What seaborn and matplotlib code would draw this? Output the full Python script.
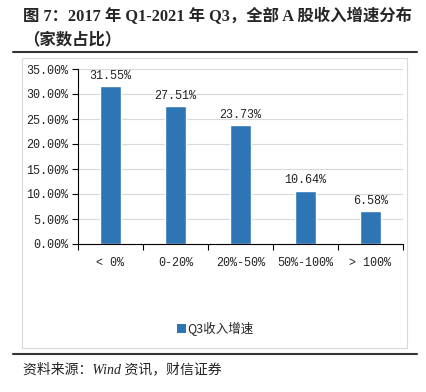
import matplotlib
matplotlib.use("Agg")
import matplotlib.pyplot as plt
import seaborn as sns
import pandas as pd
from matplotlib.patches import Rectangle
from matplotlib.lines import Line2D
from matplotlib.ticker import PercentFormatter, FixedLocator, MultipleLocator

categories = ["< 0%", "0-20%", "20%-50%", "50%-100%", "> 100%"]
values = [31.55, 27.51, 23.73, 10.64, 6.58]
series_name = "Q3收入增速"

sns.set_theme(style="white")
plt.rcParams['font.family'] = ['Noto Sans CJK SC', 'DejaVu Sans']

df = pd.DataFrame({"cat": categories, "val": values, "series": series_name})

W, H = 427, 392
fig = plt.figure(figsize=(W / 100, H / 100), dpi=100)
ax = fig.add_axes([78 / W, 1 - 244 / H, (403 - 78) / W, (244 - 69) / H])

color = "#2E75B6"
sns.barplot(data=df, x="cat", y="val", hue="series", palette=[color],
            width=0.32, ax=ax, legend=False, saturation=1)

ax.set_ylim(0, 35)
ax.set_xlim(-0.5, 4.5)
ax.yaxis.set_major_locator(MultipleLocator(5))
ax.yaxis.set_major_formatter(PercentFormatter(decimals=2))
ax.set_xlabel("")
ax.set_ylabel("")
ax.grid(axis="y", color="#d9d9d9", linewidth=0.8)
ax.set_axisbelow(True)
for s in ["top", "right"]:
    ax.spines[s].set_visible(False)
ax.spines["left"].set_color("#000000")
ax.spines["bottom"].set_color("#000000")
ax.spines["left"].set_linewidth(0.8)
ax.spines["bottom"].set_linewidth(0.8)

mono = ["Liberation Mono", "DejaVu Sans Mono"]
ax.tick_params(axis="y", direction="out", length=4, width=0.8, color="black",
               left=True, labelsize=8.5, pad=3)
ax.tick_params(axis="x", which="major", length=0, labelsize=8.5, pad=9)
ax.xaxis.set_minor_locator(FixedLocator([-0.5, 0.5, 1.5, 2.5, 3.5, 4.5]))
ax.tick_params(axis="x", which="minor", direction="out", length=4, width=0.8,
               color="black", bottom=True)
for lab in ax.get_yticklabels() + ax.get_xticklabels():
    lab.set_family(mono)
    lab.set_color("#222222")

for i, v in enumerate(values):
    ax.text(i, v + 0.9, f"{v:.2f}%", ha="center", va="bottom",
            fontsize=8.5, family=mono, color="#222222")

# legend
handle = Rectangle((0, 0), 1, 1, facecolor=color, edgecolor="none")
fig.legend([handle], [series_name], loc="center", bbox_to_anchor=(215 / W, 1 - 329 / H),
           frameon=False, handlelength=0.7, handleheight=0.7,
           handletextpad=0.1, prop={'family': ['Noto Sans CJK SC', 'DejaVu Sans'], 'size': 9})

# chart box
fig.add_artist(Rectangle((22 / W, 1 - 348 / H), (407 - 22) / W, (348 - 58) / H,
                         transform=fig.transFigure, facecolor="none",
                         edgecolor="#d9d9d9", linewidth=0.8))

# separator lines
for yy in [52, 354]:
    fig.add_artist(Line2D([13 / W, 417 / W], [1 - yy / H, 1 - yy / H],
                          transform=fig.transFigure, color="#333333", linewidth=1.5))

serif = ['Liberation Serif', 'Noto Sans CJK SC']
fig.text(23 / W, 1 - 17 / H, "图 7：2017 年 Q1-2021 年 Q3，全部 A 股收入增速分布",
         ha="left", va="center", fontsize=11.8, fontweight="bold", family=serif)
fig.text(23 / W, 1 - 40 / H, "（家数占比）", ha="left", va="center",
         fontsize=11.8, fontweight="bold", family=serif)
fig.text(23 / W, 1 - 369 / H, "资料来源：Wind 资讯，财信证券", ha="left", va="center",
         fontsize=10, style="italic", family=serif, color="#222222")

fig.savefig("out.png", dpi=100)
